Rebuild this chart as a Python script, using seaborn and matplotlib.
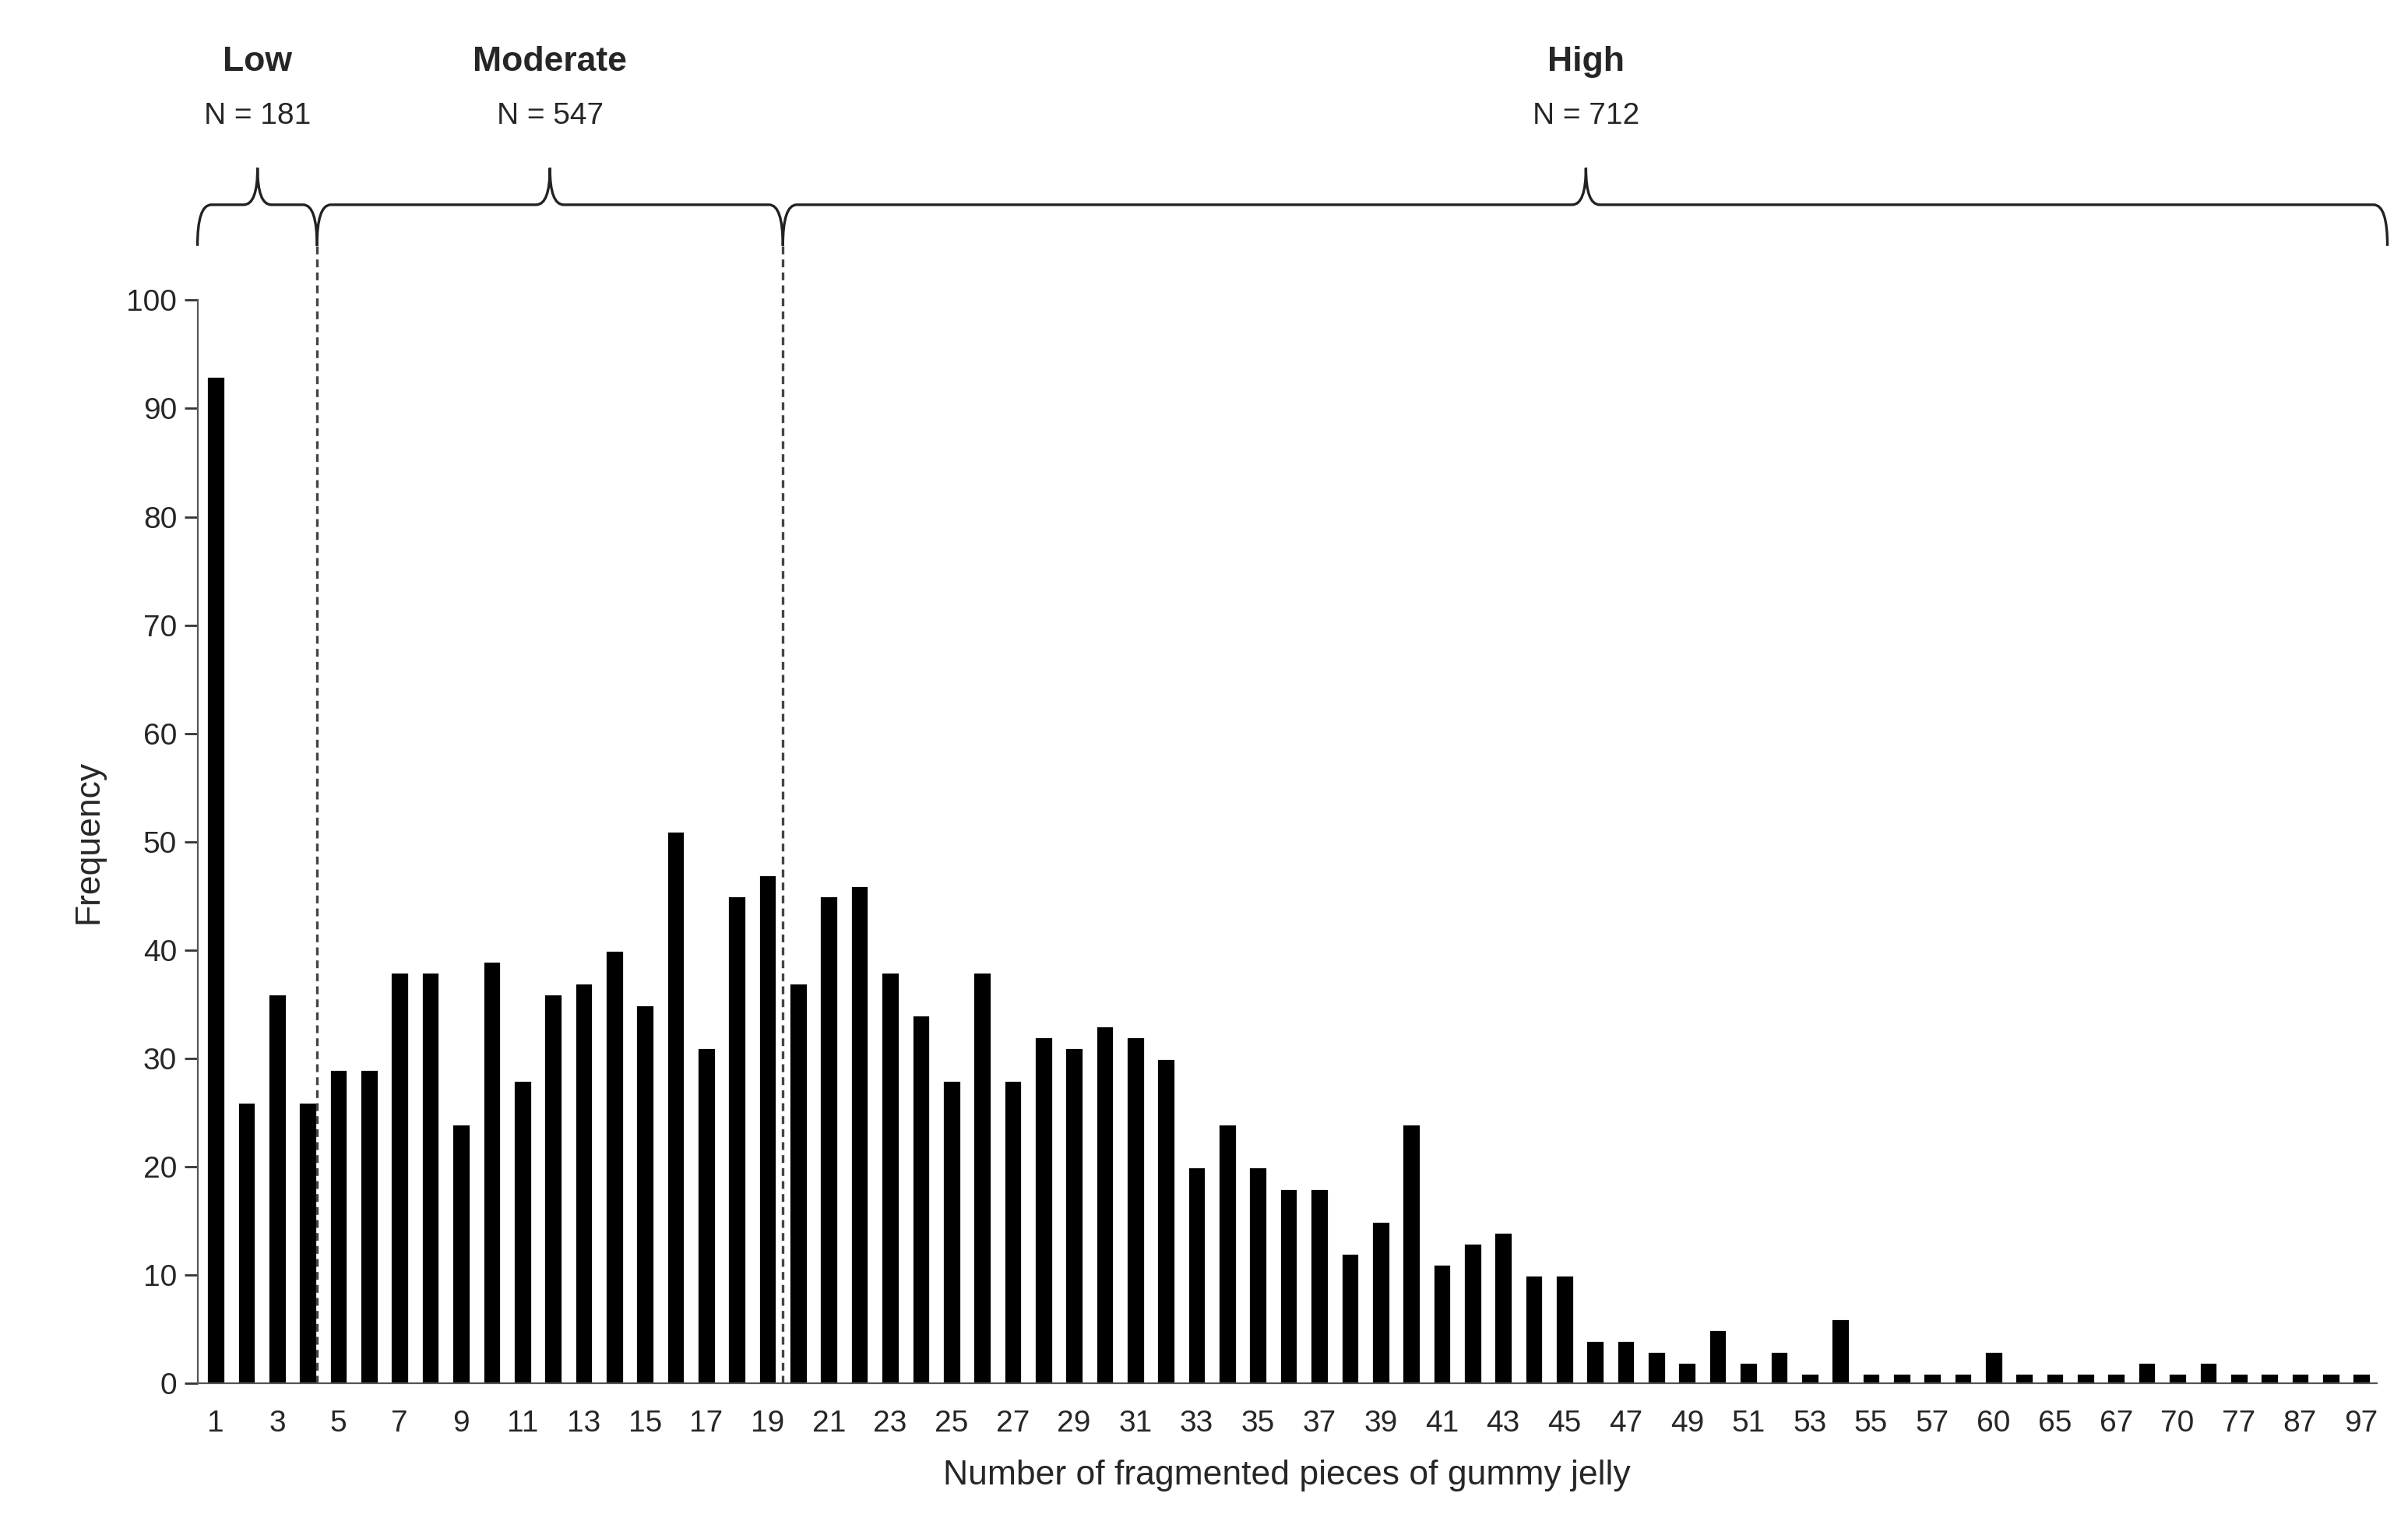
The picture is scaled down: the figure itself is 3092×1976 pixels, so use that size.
import numpy as np
import pandas as pd
import seaborn as sns
from matplotlib import pyplot as plt
from matplotlib.path import Path
from matplotlib.patches import PathPatch
from matplotlib.transforms import blended_transform_factory

sns.set_style('white')
plt.rcParams['font.family'] = 'Liberation Sans'

pieces = list(range(1, 59)) + [60, 62, 65, 66, 67, 68, 70, 73, 77, 80, 87, 90, 97]
freq = [93, 26, 36, 26, 29, 29, 38, 38, 24, 39, 28, 36, 37, 40, 35, 51, 31, 45, 47, 37,
        45, 46, 38, 34, 28, 38, 28, 32, 31, 33, 32, 30, 20, 24, 20, 18, 18, 12, 15, 24,
        11, 13, 14, 10, 10, 4, 4, 3, 2, 5, 2, 3, 1, 6, 1, 1, 1, 1,
        3, 1, 1, 1, 1, 2, 1, 2, 1, 1, 1, 1, 1]
groups = ['Low', 'Moderate', 'High']
group_n = [181, 547, 712]

df = pd.DataFrame({'pieces': [str(p) for p in pieces], 'freq': freq})

fig = plt.figure(figsize=(15.46, 9.88), dpi=200)
ax = fig.add_axes([0.082, 0.101, 0.905, 0.704])
sns.barplot(data=df, x='pieces', y='freq', color='black', width=0.6,
            saturation=1, ax=ax)
n = len(pieces)
ax.set_xlim(-0.6, n - 0.55)
ax.set_ylim(0, 100)
ax.set_yticks(range(0, 101, 10))
ax.set_xticks(range(0, n, 2))
ax.set_xticklabels([str(p) for p in pieces[::2]])
ax.set_xticks(np.arange(-0.5, n, 1), minor=True)
ax.tick_params(axis='x', which='major', length=0, labelsize=14, pad=12)
ax.tick_params(axis='x', which='minor', length=6, width=1, color='#333333')
ax.tick_params(axis='y', length=6, width=1, labelsize=14, left=True, color='#333333')
for s in ['top', 'right']:
    ax.spines[s].set_visible(False)
for s in ['left', 'bottom']:
    ax.spines[s].set_color('#555555')
ax.set_xlabel('Number of fragmented pieces of gummy jelly', fontsize=16, labelpad=10)
ax.set_ylabel('Frequency', fontsize=16, labelpad=10)

# group boundaries
bounds = [-0.6, 3.3, 18.5, n - 0.15]
for b in bounds[1:3]:
    ax.axvline(b, ymin=0, ymax=1.05, color='#444444', ls=(0, (3, 2)), lw=1.2, clip_on=False)

tr = blended_transform_factory(ax.transData, ax.transAxes)
y0, y1, y2 = 1.05, 1.088, 1.122
for i, g in enumerate(groups):
    a, b = bounds[i], bounds[i + 1]
    m = (a + b) / 2 if i < 2 else 44.7
    if i == 0:
        m = 1.36
    d = 0.45
    verts = [(a, y0), (a, y1), (a + d, y1),
             (m - d, y1), (m, y1), (m, y2),
             (m, y1), (m + d, y1),
             (b - d, y1), (b, y1), (b, y0)]
    codes = [Path.MOVETO, Path.CURVE3, Path.CURVE3,
             Path.LINETO, Path.CURVE3, Path.CURVE3,
             Path.MOVETO, Path.CURVE3 if False else Path.LINETO,
             Path.LINETO, Path.CURVE3, Path.CURVE3]
    # rebuild right half so the tip curves down too
    verts = [(a, y0), (a, y1), (a + d, y1),
             (m - d, y1), (m, y1), (m, y2),
             (m, y1), (m + d, y1),
             (b - d, y1), (b, y1), (b, y0)]
    codes = [Path.MOVETO, Path.CURVE3, Path.CURVE3,
             Path.LINETO, Path.CURVE3, Path.CURVE3,
             Path.MOVETO, Path.CURVE3 if False else Path.LINETO,
             Path.LINETO, Path.CURVE3, Path.CURVE3]
    verts[6] = (m, y2)
    codes[6] = Path.MOVETO
    verts[7] = (m, y1)
    codes[7] = Path.CURVE3
    verts.insert(8, (m + d, y1))
    codes.insert(8, Path.CURVE3)
    ax.add_patch(PathPatch(Path(verts, codes), transform=tr, fill=False,
                           lw=1.2, ec='#222222', clip_on=False))
    ax.text(m, 1.22, g, transform=tr, ha='center', va='center',
            fontsize=16, fontweight='bold')
    ax.text(m, 1.17, f'N = {group_n[i]}', transform=tr, ha='center',
            va='center', fontsize=14)

fig.savefig('out.png', dpi=200, facecolor='white')
